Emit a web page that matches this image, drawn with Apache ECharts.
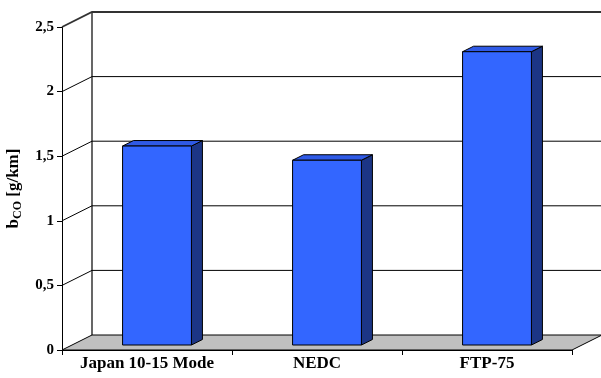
<!DOCTYPE html>
<html>
<head>
<meta charset="utf-8">
<script src="https://cdn.jsdelivr.net/npm/echarts@6/dist/echarts.min.js"></script>
<style>
  html, body { margin: 0; padding: 0; background: #fff; }
  #chart { width: 601px; height: 378px; }
</style>
</head>
<body>
<div id="chart"></div>
<script>
// CO emissions per driving cycle
const categories = ['Japan 10-15 Mode', 'NEDC', 'FTP-75'];
const bCO = [1.54, 1.43, 2.27];
const yTicks = [0, 0.5, 1, 1.5, 2, 2.5];
const yTickLabels = ['0', '0,5', '1', '1,5', '2', '2,5'];

// pseudo-3D depth of the plot box (pixels)
const DEPTH_X = 30, DEPTH_Y = -15;
const BAR_FRONT = 1 / 3, BAR_BACK = 0.7;
const FONT = '"Liberation Serif", "Times New Roman", serif';

const chart = echarts.init(document.getElementById('chart'), null, { renderer: 'canvas' });

function frameItem(params, api) {
  const cs = params.coordSys;
  const v = yTicks[params.dataIndex];
  const y = api.coord([0, v])[1];
  const x0 = cs.x, x1 = cs.x + cs.width;
  const children = [];
  if (params.dataIndex === 0) {
    // floor
    children.push({
      type: 'polygon',
      shape: { points: [[x0, y], [x1, y], [x1 + DEPTH_X, y + DEPTH_Y], [x0 + DEPTH_X, y + DEPTH_Y]] },
      style: { fill: '#c0c0c0', stroke: '#000', lineWidth: 1 }
    });
    // back wall left edge
    const yTop = api.coord([0, yTicks[yTicks.length - 1]])[1];
    children.push({
      type: 'line',
      shape: { x1: x0 + DEPTH_X, y1: y + DEPTH_Y, x2: x0 + DEPTH_X, y2: yTop + DEPTH_Y },
      style: { stroke: '#000', lineWidth: 1.2 }
    });
  } else {
    const top = params.dataIndex === yTicks.length - 1;
    children.push({
      type: 'polyline',
      shape: { points: [[x0, y], [x0 + DEPTH_X, y + DEPTH_Y], [x1 + DEPTH_X, y + DEPTH_Y]] },
      style: { stroke: top ? '#333' : '#000', lineWidth: top ? 1.8 : 1, fill: null }
    });
  }
  return { type: 'group', children: children };
}

function barItem(params, api) {
  const i = api.value(0);
  const base = api.coord([i, 0]);
  const top = api.coord([i, api.value(1)]);
  const w = api.size([1, 0])[0] * 0.405;
  const fx = DEPTH_X * BAR_FRONT, fy = DEPTH_Y * BAR_FRONT;
  const bx = DEPTH_X * BAR_BACK, by = DEPTH_Y * BAR_BACK;
  const l = base[0] - w / 2 + fx, r = base[0] + w / 2 + fx;
  const yb = base[1] + fy, yt = top[1] + fy;
  const dx = bx - fx, dy = by - fy;
  const edge = { stroke: '#000', lineWidth: 1, lineJoin: 'round' };
  return {
    type: 'group',
    children: [
      { type: 'polygon', shape: { points: [[r, yb], [r + dx, yb + dy], [r + dx, yt + dy], [r, yt]] },
        style: Object.assign({ fill: '#1c3585' }, edge) },
      { type: 'polygon', shape: { points: [[l, yt], [r, yt], [r + dx, yt + dy], [l + dx, yt + dy]] },
        style: Object.assign({ fill: '#2f5ae6' }, edge) },
      { type: 'rect', shape: { x: l, y: yt, width: r - l, height: yb - yt },
        style: Object.assign({ fill: '#3366ff' }, edge) }
    ]
  };
}

chart.setOption({
  animation: false,
  backgroundColor: '#fff',
  grid: { left: 62, right: 29, top: 27, bottom: 28, containLabel: false, outerBoundsMode: 'none' },
  xAxis: {
    type: 'category',
    data: categories,
    boundaryGap: true,
    axisLine: { lineStyle: { color: '#000', width: 1 } },
    axisTick: { show: true, length: 5, inside: false, alignWithLabel: false, interval: 0, lineStyle: { color: '#000' } },
    axisLabel: { color: '#000', fontFamily: FONT, fontWeight: 'bold', fontSize: 17, margin: 5, interval: 0, hideOverlap: false },
    splitLine: { show: false }
  },
  yAxis: {
    type: 'value',
    min: yTicks[0],
    max: yTicks[yTicks.length - 1],
    interval: 0.5,
    axisLine: { show: true, lineStyle: { color: '#000', width: 1 } },
    axisTick: { show: true, length: 5, lineStyle: { color: '#000' } },
    axisLabel: {
      color: '#000', fontFamily: FONT, fontWeight: 'bold', fontSize: 15, margin: 8,
      formatter: function (v) {
        const k = yTicks.findIndex(function (t) { return Math.abs(t - v) < 1e-9; });
        return k >= 0 ? yTickLabels[k] : '';
      }
    },
    splitLine: { show: false },
    name: '{m|b}{s|CO}{m| [g/km]}',
    nameLocation: 'middle',
    nameRotate: 90,
    nameGap: 37,
    nameTextStyle: {
      rich: {
        m: { fontFamily: FONT, fontWeight: 'bold', fontSize: 17, color: '#000', lineHeight: 22, verticalAlign: 'middle' },
        s: { fontFamily: FONT, fontWeight: 'bold', fontSize: 12, color: '#000', lineHeight: 12, verticalAlign: 'bottom' }
      }
    }
  },
  series: [
    {
      type: 'custom',
      name: 'frame',
      renderItem: frameItem,
      data: yTicks.map(function (v) { return [0, v]; }),
      encode: { x: 0, y: 1 },
      clip: false,
      silent: true,
      z: 1
    },
    {
      type: 'custom',
      name: 'bCO',
      renderItem: barItem,
      data: bCO.map(function (v, i) { return [i, v]; }),
      encode: { x: 0, y: 1 },
      clip: false,
      z: 2
    }
  ]
});
</script>
</body>
</html>
